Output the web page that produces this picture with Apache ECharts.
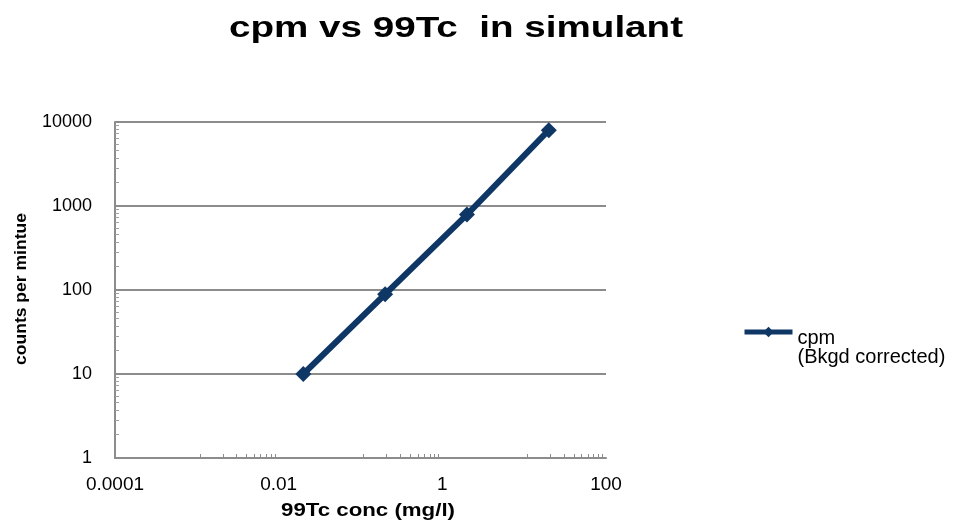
<!DOCTYPE html>
<html>
<head>
<meta charset="utf-8">
<script src="https://cdn.jsdelivr.net/npm/echarts@6/dist/echarts.min.js"></script>
<style>
  html, body { margin: 0; padding: 0; background: #fff; }
  #chart { width: 961px; height: 525px; }
</style>
</head>
<body>
<div id="chart"></div>
<script>
// values
var concMgL = [0.02, 0.2, 2, 20];
var cpmCorrected = [10, 89, 790, 8000];
var seriesName = 'cpm (Bkgd corrected)';
var legendLines = ['cpm', '(Bkgd corrected)'];
var chartTitle = 'cpm vs 99Tc  in simulant';
var xTitle = '99Tc conc (mg/l)';
var yTitle = 'counts per mintue';

var points = concMgL.map(function (x, i) { return [x, cpmCorrected[i]]; });

var font = 'Liberation Sans, Arial, sans-serif';

// the source image is a bit stretched sideways; scale texts to the widths seen there
var ctx = document.createElement('canvas').getContext('2d');
function stretch(text, css, want) {
    ctx.font = css;
    return want / ctx.measureText(text).width;
}

var chart = echarts.init(document.getElementById('chart'));

chart.setOption({
    animation: false,
    graphic: [
        {
            type: 'text', x: 456, y: 29,
            scaleX: stretch(chartTitle, 'bold 30px Liberation Sans', 454),
            style: { text: chartTitle, font: 'bold 30px Liberation Sans', fill: '#000', align: 'center', verticalAlign: 'middle' }
        },
        {
            type: 'text', x: 368, y: 511,
            scaleX: stretch(xTitle, 'bold 19px Liberation Sans', 174),
            style: { text: xTitle, font: 'bold 19px Liberation Sans', fill: '#000', align: 'center', verticalAlign: 'middle' }
        },
        {
            type: 'text', x: 21, y: 289, rotation: Math.PI / 2,
            scaleX: stretch(yTitle, 'bold 17px Liberation Sans', 152),
            style: { text: yTitle, font: 'bold 17px Liberation Sans', fill: '#000', align: 'center', verticalAlign: 'middle' }
        }
    ],
    grid: { left: 115, right: 355, top: 122, bottom: 67 },
    legend: {
        left: 737,
        top: 303,
        itemWidth: 48,
        itemHeight: 13,
        itemGap: 4,
        lineStyle: { width: 5 },
        // empty first line keeps the icon level with "cpm", as in Excel's legend
        formatter: function () {
            return '{e| }\n{t|' + legendLines[0] + '}\n{t|' + legendLines[1] + '}';
        },
        textStyle: {
            color: '#000',
            rich: {
                e: { fontSize: 10, lineHeight: 32 },
                t: { fontFamily: font, fontSize: 20, lineHeight: 19, color: '#000' }
            }
        },
        data: [{ name: seriesName }]
    },
    xAxis: {
        type: 'log',
        logBase: 100,
        min: 0.0001,
        max: 100,
        axisLine: { lineStyle: { color: '#8c8c8c', width: 2 } },
        axisTick: { show: false, inside: true },
        minorTick: { show: true, splitNumber: 10, length: 4, lineStyle: { color: '#8c8c8c' } },
        splitLine: { show: false },
        axisLabel: {
            fontFamily: font, fontSize: 19, color: '#000', margin: 17,
            formatter: function (v) { return String(+v.toPrecision(6)); }
        }
    },
    yAxis: {
        type: 'log',
        logBase: 10,
        min: 1,
        max: 10000,
        axisLine: { show: true, lineStyle: { color: '#8c8c8c', width: 2 } },
        axisTick: { show: false, inside: true },
        minorTick: { show: true, splitNumber: 10, length: 4, lineStyle: { color: '#a0a0a0' } },
        splitLine: { lineStyle: { color: '#8c8c8c', width: 2 } },
        axisLabel: {
            fontFamily: font, fontSize: 18, color: '#000', margin: 23,
            formatter: function (v) { return String(+v.toPrecision(6)); }
        }
    },
    series: [{
        name: seriesName,
        type: 'line',
        data: points,
        symbol: 'diamond',
        symbolSize: 16,
        lineStyle: { color: '#0f3766', width: 6 },
        itemStyle: { color: '#0f3766' }
    }]
});
</script>
</body>
</html>
